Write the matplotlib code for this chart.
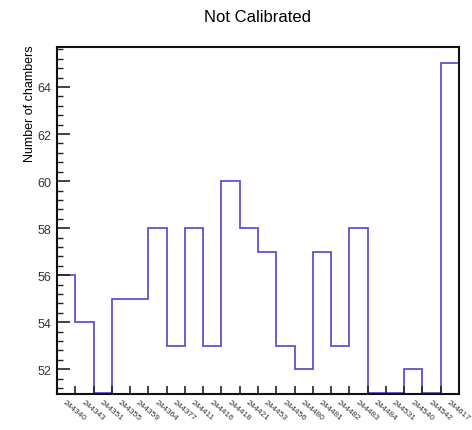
import matplotlib
matplotlib.use("Agg")
import matplotlib.pyplot as plt
from matplotlib.ticker import MultipleLocator, FixedLocator
import numpy as np

plt.rcParams['font.family'] = ['Liberation Sans', 'DejaVu Sans']

runs = ["244340", "244343", "244351", "244355", "244359", "244364", "244377",
        "244411", "244416", "244418", "244421", "244453", "244456", "244480",
        "244481", "244482", "244483", "244484", "244531", "244540", "244542",
        "244617"]
counts = [56, 54, 51, 55, 55, 58, 53, 58, 53, 60, 58, 57, 53, 52, 57, 53, 58,
          51, 51, 52, 51, 65]

W, H = 472, 431
fig = plt.figure(figsize=(W / 100, H / 100), dpi=100)
ax = fig.add_axes([57 / W, 1 - 395 / H, (459 - 57) / W, (395 - 48) / H])

edges = np.arange(len(counts) + 1)
ax.stairs(counts, edges, baseline=None, color='#5f52d0', linewidth=1.3)

ax.set_xlim(0, len(counts))
ax.set_ylim(50.95, 65.7)

for s in ax.spines.values():
    s.set_linewidth(1.5)
    s.set_color('#111111')

# y ticks
ax.yaxis.set_major_locator(MultipleLocator(2))
ax.yaxis.set_minor_locator(MultipleLocator(0.4))
ax.tick_params(axis='y', which='major', direction='in', length=9, width=1.2,
               labelsize=9, pad=4, colors='#222222', labelcolor='#333333')
ax.tick_params(axis='y', which='minor', direction='in', length=4.5, width=1.0,
               colors='#222222')

# x ticks at bin edges, labels at centers
ax.xaxis.set_major_locator(FixedLocator(edges[1:-1]))
ax.xaxis.set_major_formatter(plt.NullFormatter())
ax.set_xticks(edges[:-1] + 0.5, minor=True)
ax.set_xticklabels(runs, minor=True)
ax.tick_params(axis='x', which='major', direction='in', length=6, width=1.2,
               colors='#222222')
ax.tick_params(axis='x', which='minor', length=0, labelsize=6, pad=3)
for lbl in ax.get_xticklabels(minor=True):
    lbl.set_rotation(-40)
    lbl.set_ha('left')
    lbl.set_va('top')
    lbl.set_rotation_mode('anchor')
    lbl.set_color('#333333')

fig.text(258 / W, 1 - 18 / H, "Not Calibrated", ha='center', va='center',
         fontsize=12)
fig.text(30 / W, 1 - 45 / H, "Number of chambers", rotation=90, ha='center',
         va='top', fontsize=9)

fig.savefig("out.png", dpi=100)
